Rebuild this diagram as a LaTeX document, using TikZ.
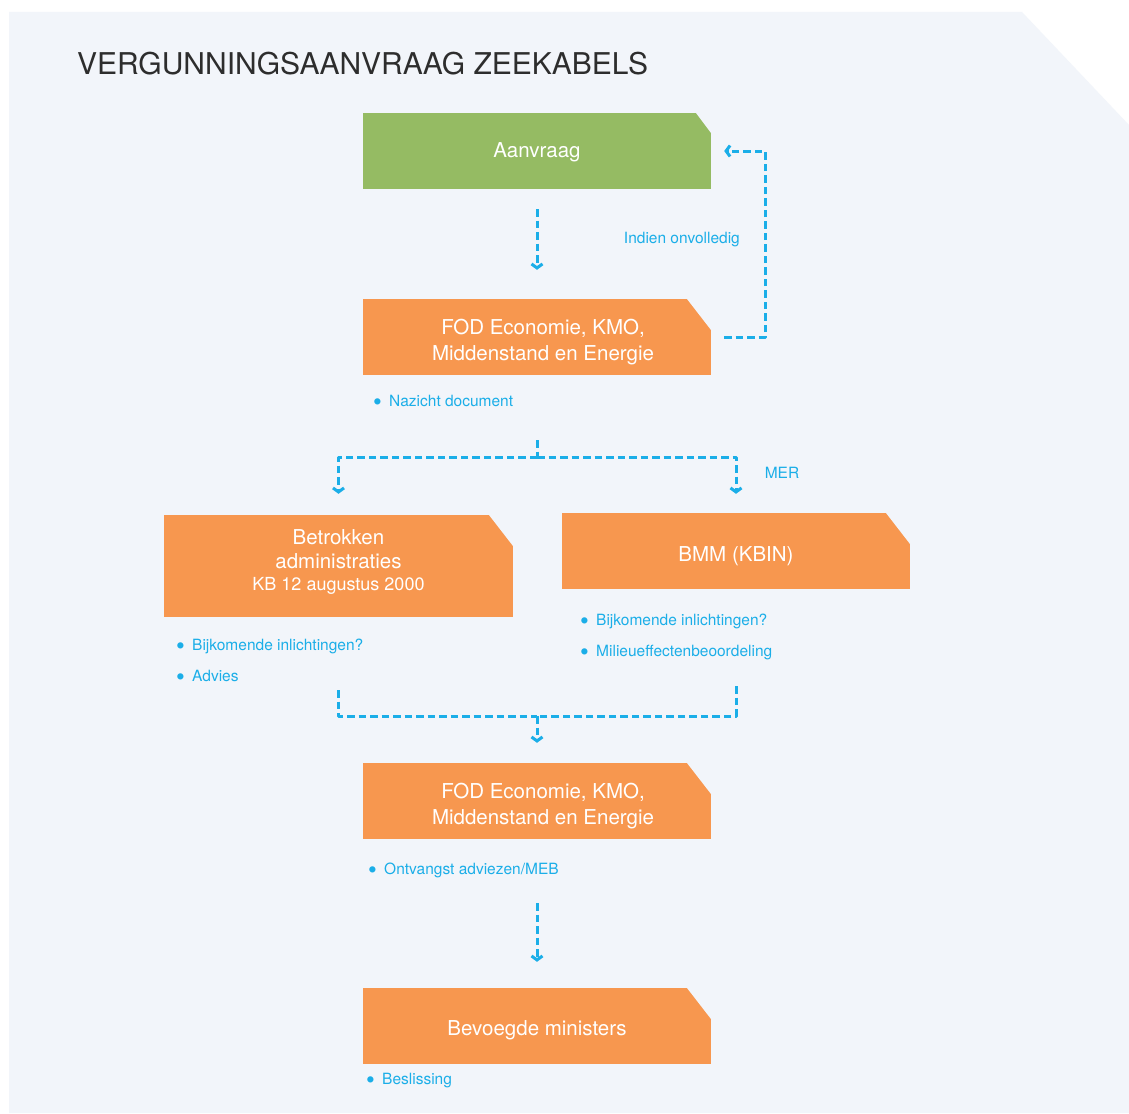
\documentclass[tikz,border=0pt]{standalone}
\usepackage{fontspec}
\setmainfont{TeX Gyre Heros}
\usetikzlibrary{arrows.meta}

\definecolor{pagebg}{RGB}{242,245,250}
\definecolor{boxgreen}{RGB}{149,187,99}
\definecolor{boxorange}{RGB}{247,151,79}
\definecolor{flowblue}{RGB}{27,174,232}
\definecolor{titlegray}{RGB}{45,45,45}

\tikzset{
  cutbox/.style 2 args={path picture={
      \fill[pagebg] ([xshift=-#1]path picture bounding box.north east)
        -- ([shift={(2pt,2pt)}]path picture bounding box.north east)
        -- ([yshift=-#2]path picture bounding box.north east) -- cycle;}},
  stepbox/.style={fill=boxorange, text=white, minimum width=348pt, minimum height=76pt,
    inner sep=0pt, align=center, font=\fontsize{20.5}{26}\selectfont, cutbox={24pt}{31pt}},
  lowtext/.style={execute at begin node={\rule{0pt}{#1}}},
  note/.style={text=flowblue, anchor=west, align=left, inner sep=0pt,
    font=\fontsize{15.5}{31}\selectfont},
  dline/.style={flowblue, line width=3pt, dash pattern=on 7.5pt off 4pt},
  flow/.style={dline, -{Straight Barb[length=4pt,width=11pt]}},
}
\newcommand{\bul}{\makebox[16pt][l]{\raisebox{-4pt}{\fontsize{25}{0}\selectfont\textbullet}}}

\begin{document}
\begin{tikzpicture}[x=1pt, y=-1pt, line join=round]
    % Page and background
    \useasboundingbox (0,0) rectangle (1129,1113);
    \fill[white] (0,0) rectangle (1129,1113);
    \fill[pagebg] (9,12) -- (1022,12) -- (1129,125) -- (1129,1113) -- (9,1113) -- cycle;

    % Title
    \node[anchor=base west, inner sep=0pt, text=titlegray, font=\fontsize{30}{36}\selectfont]
        (title) at (77,75) {VERGUNNINGSAANVRAAG ZEEKABELS};

    % Boxes
    \node[stepbox, fill=boxgreen, cutbox={15pt}{20pt}, lowtext=18pt] (aanvraag) at (537,151) {Aanvraag};
    \node[stepbox] (fodA) at (537,337)
        {\rule{0pt}{25pt}\hspace*{12pt}FOD Economie, KMO,\\\hspace*{12pt}Middenstand en Energie};
    \node[stepbox, minimum width=349pt, minimum height=102pt, font=\fontsize{20.5}{25}\selectfont]
        (betrokken) at (338.5,566)
        {Betrokken\\[-1pt]administraties\\[-3pt]{\fontsize{18}{22}\selectfont KB 12 augustus 2000\rule[-12pt]{0pt}{0pt}}};
    \node[stepbox, lowtext=25pt] (bmm) at (736,551) {BMM (KBIN)};
    \node[stepbox] (fodB) at (537,801)
        {\rule{0pt}{25pt}\hspace*{12pt}FOD Economie, KMO,\\\hspace*{12pt}Middenstand en Energie};
    \node[stepbox, lowtext=24pt] (bevoegd) at (537,1026) {Bevoegde ministers};

    % Notes under the boxes
    \node[note] (nazicht) at (373,403) {\bul Nazicht document};
    \node[note] (betrNotes) at (176,662.5) {\bul Bijkomende inlichtingen?\\\bul Advies};
    \node[note] (bmmNotes) at (580,637.5) {\bul Bijkomende inlichtingen?\\\bul Milieueffectenbeoordeling};
    \node[note] (ontvangst) at (368,871) {\bul Ontvangst adviezen/MEB};
    \node[note] (beslissing) at (366,1081) {\bul Beslissing};

    % Connector ends
    \coordinate (aOut) at ([yshift=-20pt]aanvraag.south);
    \coordinate (fodAIn) at ([yshift=29pt]fodA.north);
    \coordinate (loopOut) at ([xshift=13pt]fodA.east);
    \coordinate (loopIn) at ([xshift=13pt]aanvraag.east);
    \coordinate (fodAOut) at ([yshift=-65pt]fodA.south);
    \coordinate (split) at (537,457);
    \coordinate (betrIn) at ([yshift=21pt]betrokken.north);
    \coordinate (bmmIn) at ([yshift=19pt]bmm.north);
    \coordinate (betrOut) at ([yshift=-73pt]betrokken.south);
    \coordinate (bmmOut) at ([yshift=-97pt]bmm.south);
    \coordinate (merge) at (537,716);
    \coordinate (fodBIn) at ([yshift=20pt]fodB.north);
    \coordinate (fodBOut) at ([yshift=-64pt]fodB.south);
    \coordinate (bevIn) at ([yshift=26pt]bevoegd.north);

    % Flow
    \draw[flow] (aOut) -- (fodAIn);
    \draw[flow] (loopOut) -- ++(41,0) |- (loopIn);
    \node[note, anchor=east] (onvolledig) at (740,240) {Indien onvolledig};
    \draw[dline] (fodAOut) -- (split);
    \draw[flow] (split) -| (betrIn);
    \draw[flow] (split) -| (bmmIn);
    \node[note, anchor=center] (mer) at (782,473) {MER};
    \draw[dline] (betrOut) |- (merge);
    \draw[dline] (bmmOut) |- (merge);
    \draw[flow] (merge) -- (fodBIn);
    \draw[flow] (fodBOut) -- (bevIn);
\end{tikzpicture}
\end{document}
